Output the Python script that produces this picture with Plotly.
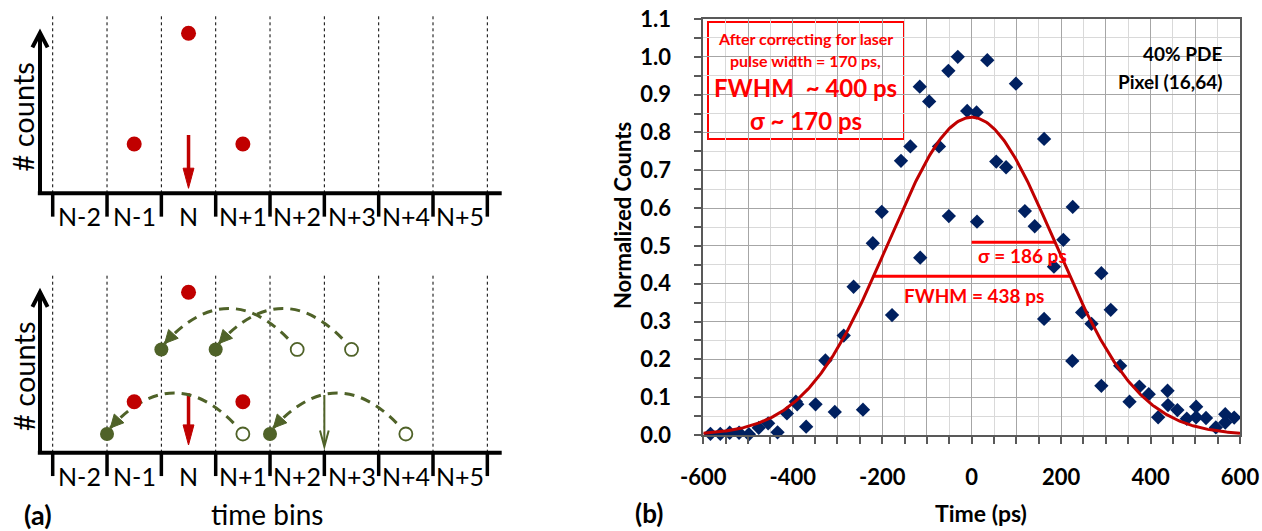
import numpy as np
import plotly.graph_objects as go

# ======================= Panel (b) data =======================
time_ps = [-584, -562, -541, -520, -498, -476, -455, -434, -413, -393, -390, -370, -349,
           -327, -306, -286, -264, -243, -221, -201, -178, -158, -137, -116, -115, -95,
           -73, -52, -51, -31, -10, 11, 12, 35, 55, 77, 99, 119, 141, 162, 162, 184, 205,
           225, 226, 247, 268, 290, 290, 311, 332, 353, 375, 396, 417, 438, 439, 460,
           481, 502, 502, 524, 546, 567, 567, 587]
norm_counts = [0.003, 0.003, 0.006, 0.006, 0.002, 0.019, 0.031, 0.007, 0.057, 0.088, 0.081, 0.022, 0.081,
               0.197, 0.061, 0.263, 0.392, 0.067, 0.507, 0.590, 0.317, 0.725, 0.763, 0.921, 0.469, 0.882,
               0.763, 0.963, 0.579, 1.000, 0.857, 0.853, 0.564, 0.991, 0.723, 0.708, 0.929, 0.592, 0.552, 0.307, 0.783, 0.445, 0.516,
               0.196, 0.603, 0.324, 0.294, 0.428, 0.130, 0.331, 0.183, 0.088, 0.128, 0.108, 0.047, 0.117, 0.079, 0.066,
               0.043, 0.075, 0.047, 0.045, 0.020, 0.055, 0.033, 0.046]

FIT_AMPLITUDE = 0.84
FIT_CENTER_PS = 0.0
FIT_SIGMA_PS = 186.0

x_tick_values = list(range(-600, 601, 100))
x_tick_labels = [str(v) if v % 200 == 0 else "" for v in x_tick_values]
y_tick_values = [round(0.1 * i, 1) for i in range(12)]
y_tick_labels = [f"{v:.1f}" for v in y_tick_values]

box_lines_small = ["After correcting for laser", "pulse width = 170 ps,"]
box_lines_big = ["FWHM\u00a0 ~ 400 ps", "\u03c3 ~ 170 ps"]
info_lines = ["40% PDE", "Pixel (16,64)"]

# ======================= Panel (a) data =======================
bin_labels = ["N-2", "N-1", "N", "N+1", "N+2", "N+3", "N+4", "N+5"]
top_red_bins = [2.5, 1.5, 3.5]
top_red_counts = [2.945, 0.907, 0.907]
top_laser_arrow = [1.073, 0.092]          # from, to (counts)
bottom_red_bins = [2.5, 1.5, 3.5]
bottom_red_counts = [2.952, 0.939, 0.939]
bottom_laser_arrow = [1.093, 0.142]
green_filled_bins = [2.0, 3.0, 1.0, 4.0]
green_filled_counts = [1.90, 1.90, 0.344, 0.344]
green_open_bins = [4.5, 5.5, 3.5, 6.5]
green_open_counts = [1.90, 1.90, 0.344, 0.344]
green_arrow_bin = 5.0
green_arrow = [1.062, 0.11]
laser_bin = 2.5

# ======================= geometry / style =======================
W, H = 1262, 531
def px(x): return x / W
def py(y): return 1 - y / H

RED = "#c00000"
BRIGHT_RED = "#ff0000"
GREEN = "#4f6228"
NAVY = "#002060"
FRAME = "#595959"
FONT = "Lato"

SCALE = 54.33                      # pixels per schematic unit
X2_RANGE = [(0 - 52.7) / SCALE, (605.76 - 52.7) / SCALE]
Y2_RANGE = [(452.7 - 531) / SCALE, (452.7 - 0) / SCALE]
TOP_BASE = (452.7 - 193.3) / SCALE
BOT_BASE = 0.0
YARROW_X = (40 - 52.7) / SCALE
XAXIS_END = (501.7 - 52.7) / SCALE

fig = go.Figure()

# ----------------------- Panel (b) -----------------------
t_fit = np.linspace(-600, 600, 401)
y_fit = FIT_AMPLITUDE * np.exp(-(t_fit - FIT_CENTER_PS) ** 2 / (2 * FIT_SIGMA_PS ** 2))
fwhm = 2 * np.sqrt(2 * np.log(2)) * FIT_SIGMA_PS
half_max = FIT_AMPLITUDE / 2
sigma_level = FIT_AMPLITUDE * np.exp(-0.5)

fig.add_trace(go.Scatter(x=[FIT_CENTER_PS - fwhm / 2, FIT_CENTER_PS + fwhm / 2], y=[half_max, half_max],
                         mode="lines", line=dict(color=BRIGHT_RED, width=3), hoverinfo="skip", showlegend=False))
fig.add_trace(go.Scatter(x=[FIT_CENTER_PS, FIT_CENTER_PS + FIT_SIGMA_PS], y=[sigma_level, sigma_level],
                         mode="lines", line=dict(color=BRIGHT_RED, width=3), hoverinfo="skip", showlegend=False))
fig.add_trace(go.Scatter(x=time_ps, y=norm_counts, mode="markers",
                         marker=dict(symbol="diamond", size=11, color=NAVY), cliponaxis=False,
                         hoverinfo="skip", showlegend=False))
fig.add_trace(go.Scatter(x=t_fit, y=y_fit, mode="lines", line=dict(color=RED, width=3),
                         hoverinfo="skip", showlegend=False))

annotations = []

def ann(x, y, text, size, color="black", bold=False, xref="paper", yref="paper", xanchor="center", angle=0):
    f = dict(family=FONT, size=size, color=color)
    if bold:
        f["weight"] = "bold"
    annotations.append(dict(x=x, y=y, xref=xref, yref=yref, text=text, showarrow=False,
                            xanchor=xanchor, yanchor="middle", textangle=angle, font=f))

ann(FIT_CENTER_PS + FIT_SIGMA_PS / 2 + 20, sigma_level - 0.035, "\u03c3 = 186 ps", 19, BRIGHT_RED, True, "x", "y")
ann(FIT_CENTER_PS + 5, half_max - 0.052, "FWHM = 438 ps", 19, BRIGHT_RED, True, "x", "y")

shapes = []
# red text box
shapes.append(dict(type="rect", xref="paper", yref="paper", x0=px(708), x1=px(904), y0=py(139), y1=py(22),
                   line=dict(color=BRIGHT_RED, width=2), fillcolor="white", layer="between"))
# white box behind info text
shapes.append(dict(type="rect", xref="paper", yref="paper", x0=px(1100), x1=px(1232), y0=py(98), y1=py(33),
                   line=dict(width=0), fillcolor="white", layer="between"))

for txt, yy in zip(box_lines_small, [39, 61]):
    ann(px(806), py(yy), txt, 16, BRIGHT_RED, True)
for txt, yy in zip(box_lines_big, [88, 120]):
    ann(px(806), py(yy), txt, 24, BRIGHT_RED, True)
for txt, yy in zip(info_lines, [53, 81]):
    ann(px(1224), py(yy), txt, 19, "black", True, xanchor="right")

ann(px(622), py(216), "Normalized Counts", 22, "black", True, angle=-90)
ann(px(981), py(513), "Time (ps)", 23, "black", True)
ann(px(649), py(513), "(b)", 26, "black", True)

# ----------------------- Panel (a) -----------------------
def head_path(tip_x, tip_y, dx, dy, length, half_w):
    n = np.hypot(dx, dy)
    ux, uy = dx / n, dy / n
    bx, by = tip_x - ux * length, tip_y - uy * length
    pxp, pyp = -uy, ux
    return (f"M {tip_x},{tip_y} L {bx + pxp * half_w},{by + pyp * half_w} "
            f"L {bx - pxp * half_w},{by - pyp * half_w} Z")

def s_line(x0, y0, x1, y1, color, width, dash="solid"):
    return dict(type="line", xref="x2", yref="y2", x0=x0, y0=y0, x1=x1, y1=y1,
                line=dict(color=color, width=width, dash=dash), layer="below")

def s_path(path, color, width=0, fill=None, dash="solid"):
    d = dict(type="path", xref="x2", yref="y2", path=path,
             line=dict(color=color, width=width, dash=dash), layer="below")
    if fill:
        d["fillcolor"] = fill
    return d

n_bins = len(bin_labels)
for base in [TOP_BASE, BOT_BASE]:
    # dashed bin separators
    for k in range(n_bins + 1):
        shapes.append(s_line(k, base, k, base + 3.26, "black", 1, "3px,3px"))
    # time axis
    shapes.append(s_line(YARROW_X - 0.04, base, XAXIS_END, base, "black", 4))
    for k in range(n_bins + 1):
        shapes.append(s_line(k, base, k, base - 0.43, "black", 3.5))
    # count axis arrow
    top = base + 2.955
    shapes.append(s_line(YARROW_X, base, YARROW_X, top - 0.03, "black", 4))
    shapes.append(s_path(f"M {YARROW_X - 0.14},{top - 0.27} L {YARROW_X},{top} L {YARROW_X + 0.14},{top - 0.27}",
                         "black", 4))
    for k, lab in enumerate(bin_labels):
        ann(k + 0.5, base - 0.42, lab, 25, xref="x2", yref="y2")
    ann(-0.55, base + 1.41, "# counts", 29, xref="x2", yref="y2", angle=-90)

# laser arrows (red)
for base, (y_from, y_to) in [(TOP_BASE, top_laser_arrow), (BOT_BASE, bottom_laser_arrow)]:
    head_len = 0.37
    shapes.append(s_line(laser_bin, base + y_from, laser_bin, base + y_to + head_len * 0.5, RED, 3.5))
    shapes.append(s_path(head_path(laser_bin, base + y_to, 0, -1, head_len, 0.1), RED, 1, RED))

# green vertical arrow
shapes.append(s_line(green_arrow_bin, green_arrow[0], green_arrow_bin, green_arrow[1] + 0.05, GREEN, 2))
shapes.append(s_path(f"M {green_arrow_bin - 0.08},{green_arrow[1] + 0.3} L {green_arrow_bin},{green_arrow[1]} "
                     f"L {green_arrow_bin + 0.08},{green_arrow[1] + 0.3}", GREEN, 2))

# dashed arcs from open circles to filled dots
for xo, yo, xf, yf in zip(green_open_bins, green_open_counts, green_filled_bins, green_filled_counts):
    x0, y0 = xo - 0.17, yo + 0.2
    x2, y2 = xf + 0.06, yf + 0.11
    xm = (x0 + x2) / 2
    y1 = yo + 1.355
    shapes.append(s_path(f"M {x0},{y0} Q {xm},{y1} {x2},{y2}", GREEN, 3, dash="10px,7px"))
    shapes.append(s_path(head_path(x2, y2, x2 - xm, y2 - y1, 0.24, 0.12), GREEN, 1, GREEN))

common = dict(xaxis="x2", yaxis="y2", mode="markers", hoverinfo="skip", showlegend=False, cliponaxis=False)
fig.add_trace(go.Scatter(x=top_red_bins, y=[TOP_BASE + c for c in top_red_counts],
                         marker=dict(size=15, color=RED), **common))
fig.add_trace(go.Scatter(x=bottom_red_bins, y=[BOT_BASE + c for c in bottom_red_counts],
                         marker=dict(size=15, color=RED), **common))
fig.add_trace(go.Scatter(x=green_filled_bins, y=green_filled_counts,
                         marker=dict(size=14, color=GREEN), **common))
fig.add_trace(go.Scatter(x=green_open_bins, y=green_open_counts,
                         marker=dict(size=13, color="white", line=dict(color=GREEN, width=1.8)), **common))

ann((266.7 - 52.7) / SCALE, (452.7 - 514) / SCALE, "time bins", 28, xref="x2", yref="y2")
ann((38 - 52.7) / SCALE, (452.7 - 514) / SCALE, "(a)", 27, bold=True, xref="x2", yref="y2")

# ----------------------- layout -----------------------
tickfont = dict(family=FONT, size=22, color="black", weight="bold")
fig.update_layout(
    template="none",
    width=W, height=H,
    margin=dict(l=0, r=0, t=0, b=0),
    paper_bgcolor="white", plot_bgcolor="white",
    hovermode=False,
    shapes=shapes,
    annotations=annotations,
    xaxis=dict(domain=[px(703.3), px(1240)], range=[-600, 600], anchor="y",
               tickmode="array", tickvals=x_tick_values, ticktext=x_tick_labels,
               ticks="outside", ticklen=7, tickwidth=2, tickcolor=FRAME,
               tickfont=tickfont, ticklabelstandoff=15,
               showgrid=True, gridcolor="#a6a6a6", gridwidth=1,
               minor=dict(tick0=-600, dtick=50, ticks="outside", ticklen=7, tickwidth=2, tickcolor=FRAME,
                          showgrid=True, gridcolor="#d9d9d9", gridwidth=1),
               showline=True, linecolor=FRAME, linewidth=2, mirror=True, zeroline=False),
    yaxis=dict(domain=[py(435), py(19)], range=[0, 1.1], anchor="x",
               tickmode="array", tickvals=y_tick_values, ticktext=y_tick_labels,
               ticks="outside", ticklen=7, tickwidth=2, tickcolor=FRAME,
               tickfont=tickfont, ticklabelstandoff=19,
               showgrid=True, gridcolor="#a6a6a6", gridwidth=1,
               minor=dict(tick0=0, dtick=0.05, ticks="outside", ticklen=7, tickwidth=2, tickcolor=FRAME,
                          showgrid=True, gridcolor="#d9d9d9", gridwidth=1),
               showline=True, linecolor=FRAME, linewidth=2, mirror=True, zeroline=False),
    xaxis2=dict(domain=[0, px(605.76)], range=X2_RANGE, anchor="y2", visible=False, fixedrange=True),
    yaxis2=dict(domain=[0, 1], range=Y2_RANGE, anchor="x2", visible=False, fixedrange=True),
)

fig.write_html("out.html")
